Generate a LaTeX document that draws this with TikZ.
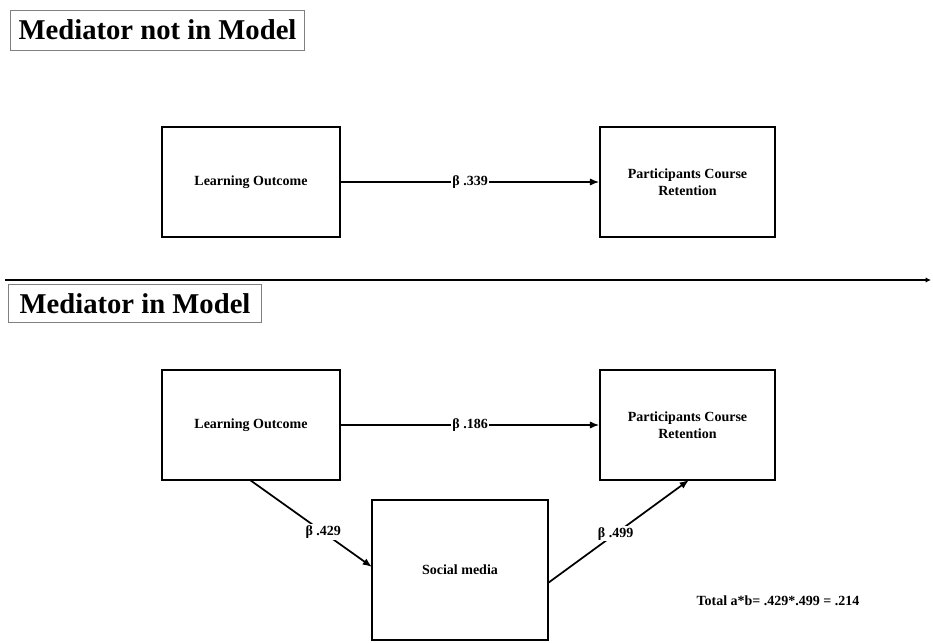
\documentclass[tikz,border=0pt]{standalone}
\usepackage{fontspec}
\setmainfont{Liberation Serif}
\usetikzlibrary{arrows.meta}
\begin{document}
\begin{tikzpicture}[x=0.75pt,y=-0.75pt,
  box/.style={draw,line width=1.3pt,minimum width=133.5pt,minimum height=83pt,inner sep=0pt,align=center,font=\bfseries\fontsize{10.5}{12.5}\selectfont},
  title/.style={draw=gray,line width=0.6pt,inner sep=2pt,font=\bfseries\fontsize{21.5}{23}\selectfont},
  arr/.style={line width=1.3pt,-{Latex[length=7pt,width=5.5pt]}},
  lbl/.style={fill=white,inner sep=1pt,font=\bfseries\fontsize{10.5}{12.5}\selectfont}]
\useasboundingbox (0,0) rectangle (933,643);
% top panel
\node[title,minimum width=221pt,minimum height=30pt] (t1) at (157.5,30) {Mediator not in Model};
\node[box] (lo1) at (251,182) {Learning Outcome};
\node[box,minimum width=131pt] (pr1) at (687.5,182) {Participants Course\\Retention};
\draw[arr] (lo1) -- node[lbl] (b1) {β .339} (pr1);
% separator
\coordinate (s0) at (5,280);
\coordinate (s1) at (931,280);
\draw[line width=1.5pt,-{Latex[length=4pt,width=4pt]}] (s0) -- (s1);
% bottom panel
\node[title,minimum width=190pt,minimum height=28pt] (t2) at (135,303.5) {Mediator in Model};
\node[box] (lo2) at (251,425) {Learning Outcome};
\node[box,minimum width=131pt] (pr2) at (687.5,425) {Participants Course\\Retention};
\node[box,minimum width=132pt,minimum height=105pt] (sm) at (460,570) {Social media};
\draw[arr] (lo2) -- node[lbl] (b2) {β .186} (pr2);
\coordinate (a0) at (250,480);
\coordinate (a1) at (372,567);
\coordinate (c0) at (548,583);
\coordinate (c1) at (689,480);
\draw[arr] (a0) -- node[lbl,pos=0.6] (b3) {β .429} (a1);
\draw[arr] (c0) -- node[lbl,pos=0.48] (b4) {β .499} (c1);
\node[font=\bfseries\fontsize{10.5}{12.5}\selectfont] (tot) at (778,601) {Total a*b= .429*.499 = .214};
\end{tikzpicture}
\end{document}
